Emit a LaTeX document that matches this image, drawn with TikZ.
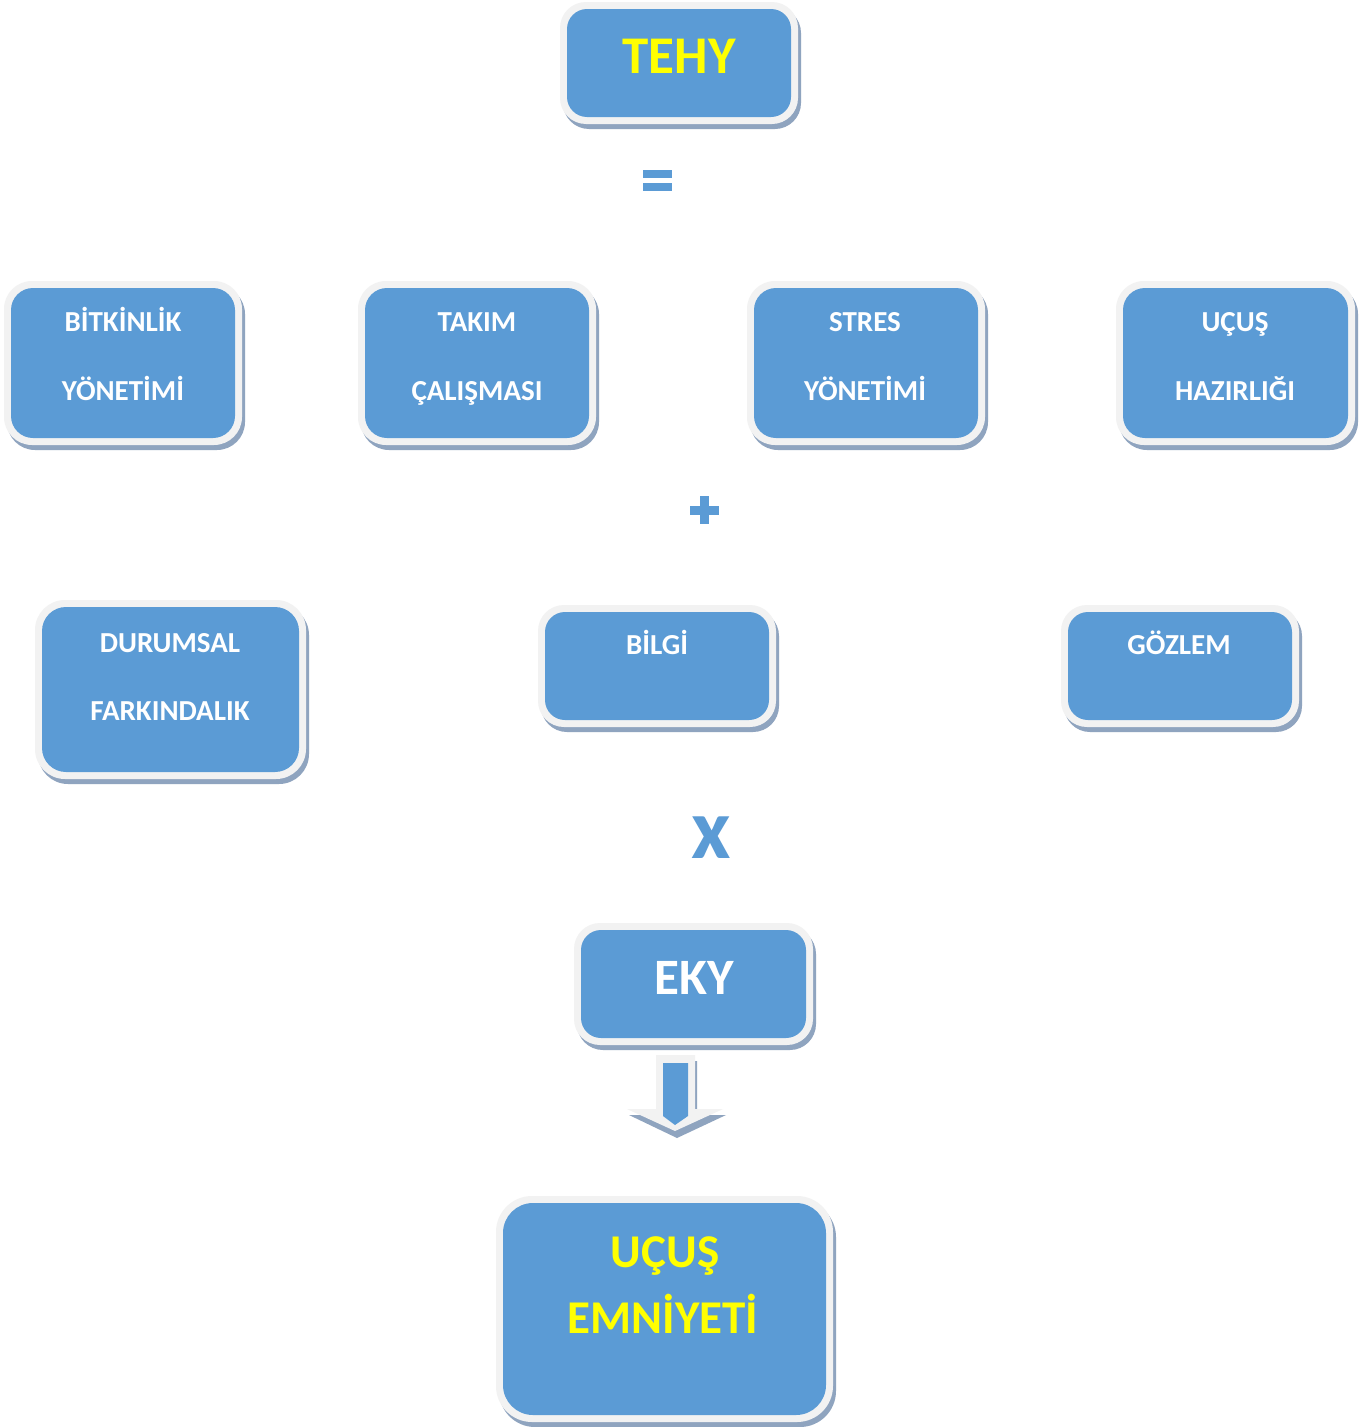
\documentclass[tikz,border=0pt]{standalone}
\usepackage{fontspec}
\newfontfamily\carl{Carlito}
\definecolor{boxblue}{RGB}{91,155,213}
\definecolor{framec}{RGB}{242,242,242}
\definecolor{shadowc}{RGB}{143,164,191}
\definecolor{txtyellow}{RGB}{255,255,0}
\newcommand\tbox[6]{%
  \fill[shadowc, rounded corners={#6+6}] ({#2-7+3},{#3-7+5}) rectangle ({#4+7+3},{#5+7+5});
  \fill[framec, rounded corners={#6+6}] ({#2-7},{#3-7}) rectangle ({#4+7},{#5+7});
  \path[fill=boxblue, rounded corners=#6] (#2,#3) rectangle (#4,#5);
  \coordinate (#1) at ({(#2+#4)/2},{(#3+#5)/2});
}
\tikzset{
  whitetxt/.style={font=\carl\bfseries\fontsize{29}{34}\selectfont, text=white, inner sep=0pt, anchor=base},
  bigwhite/.style={font=\carl\bfseries\fontsize{51}{60}\selectfont, text=white, inner sep=0pt, anchor=base},
  bigyellow/.style={font=\carl\bfseries\fontsize{53}{60}\selectfont, text=txtyellow, inner sep=0pt, anchor=base},
  midyellow/.style={font=\carl\bfseries\fontsize{47}{56}\selectfont, text=txtyellow, inner sep=0pt, anchor=base},
  opsign/.style={fill=boxblue},
}
\begin{document}
\begin{tikzpicture}[x=1pt,y=-1pt]
\useasboundingbox (0,0) rectangle (1362,1427);
\fill[white] (0,0) rectangle (1362,1427);

% boxes
\tbox{tehy}{567}{9}{791}{117}{20}
\tbox{bitk}{11}{288}{235}{438}{22}
\tbox{takim}{365}{288}{589}{438}{22}
\tbox{stres}{754}{288}{978}{438}{22}
\tbox{ucus}{1123}{288}{1348}{438}{22}
\tbox{durum}{42}{607}{299}{772}{24}
\tbox{bilgi}{545}{612}{769}{720}{20}
\tbox{gozlem}{1068}{612}{1292}{720}{20}
\tbox{eky}{581}{930}{806}{1038}{20}
\tbox{emn}{503}{1203}{826}{1415}{30}

% texts
\node[bigyellow] (tehyT) at (679,73) {TEHY};
\node[whitetxt] (bitk1) at (123,331) {BİTKİNLİK};
\node[whitetxt] (bitk2) at (123,400) {YÖNETİMİ};
\node[whitetxt] (takim1) at (477,331) {TAKIM};
\node[whitetxt] (takim2) at (477,400) {ÇALIŞMASI};
\node[whitetxt] (stres1) at (865,331) {STRES};
\node[whitetxt] (stres2) at (865,400) {YÖNETİMİ};
\node[whitetxt] (ucus1) at (1235,331) {UÇUŞ};
\node[whitetxt] (ucus2) at (1235,400) {HAZIRLIĞI};
\node[whitetxt] (durum1) at (170,652) {DURUMSAL};
\node[whitetxt] (durum2) at (170,720) {FARKINDALIK};
\node[whitetxt] (bilgiT) at (657,654) {BİLGİ};
\node[whitetxt] (gozlemT) at (1179,654) {GÖZLEM};
\node[bigwhite] (ekyT) at (694,994) {EKY};
\node[midyellow] (emn1) at (665,1267) {UÇUŞ};
\node[midyellow] (emn2) at (663,1333) {EMNİYETİ};

% equals sign
\fill[opsign] (643,170) rectangle (672,178);
\fill[opsign] (643,183) rectangle (672,191);
% plus sign
\fill[opsign] (690,505.5) rectangle (719,514.5);
\fill[opsign] (700,496) rectangle (709,524);
% times sign
\node[font=\carl\bfseries\fontsize{86}{90}\selectfont, text=boxblue, inner sep=0pt, anchor=base] (times) at (711,858) {x};

% block arrow
\fill[shadowc] (658,1061) -- (697,1061) -- (697,1115) -- (726,1115) -- (677,1138) -- (629,1115) -- (658,1115) -- cycle;
\fill[framec] (656,1055) -- (695,1055) -- (695,1109) -- (723,1109) -- (675,1131) -- (627,1109) -- (656,1109) -- cycle;
\fill[boxblue] (663,1063) -- (688,1063) -- (688,1116) -- (675,1125) -- (663,1116) -- cycle;
\end{tikzpicture}
\end{document}
